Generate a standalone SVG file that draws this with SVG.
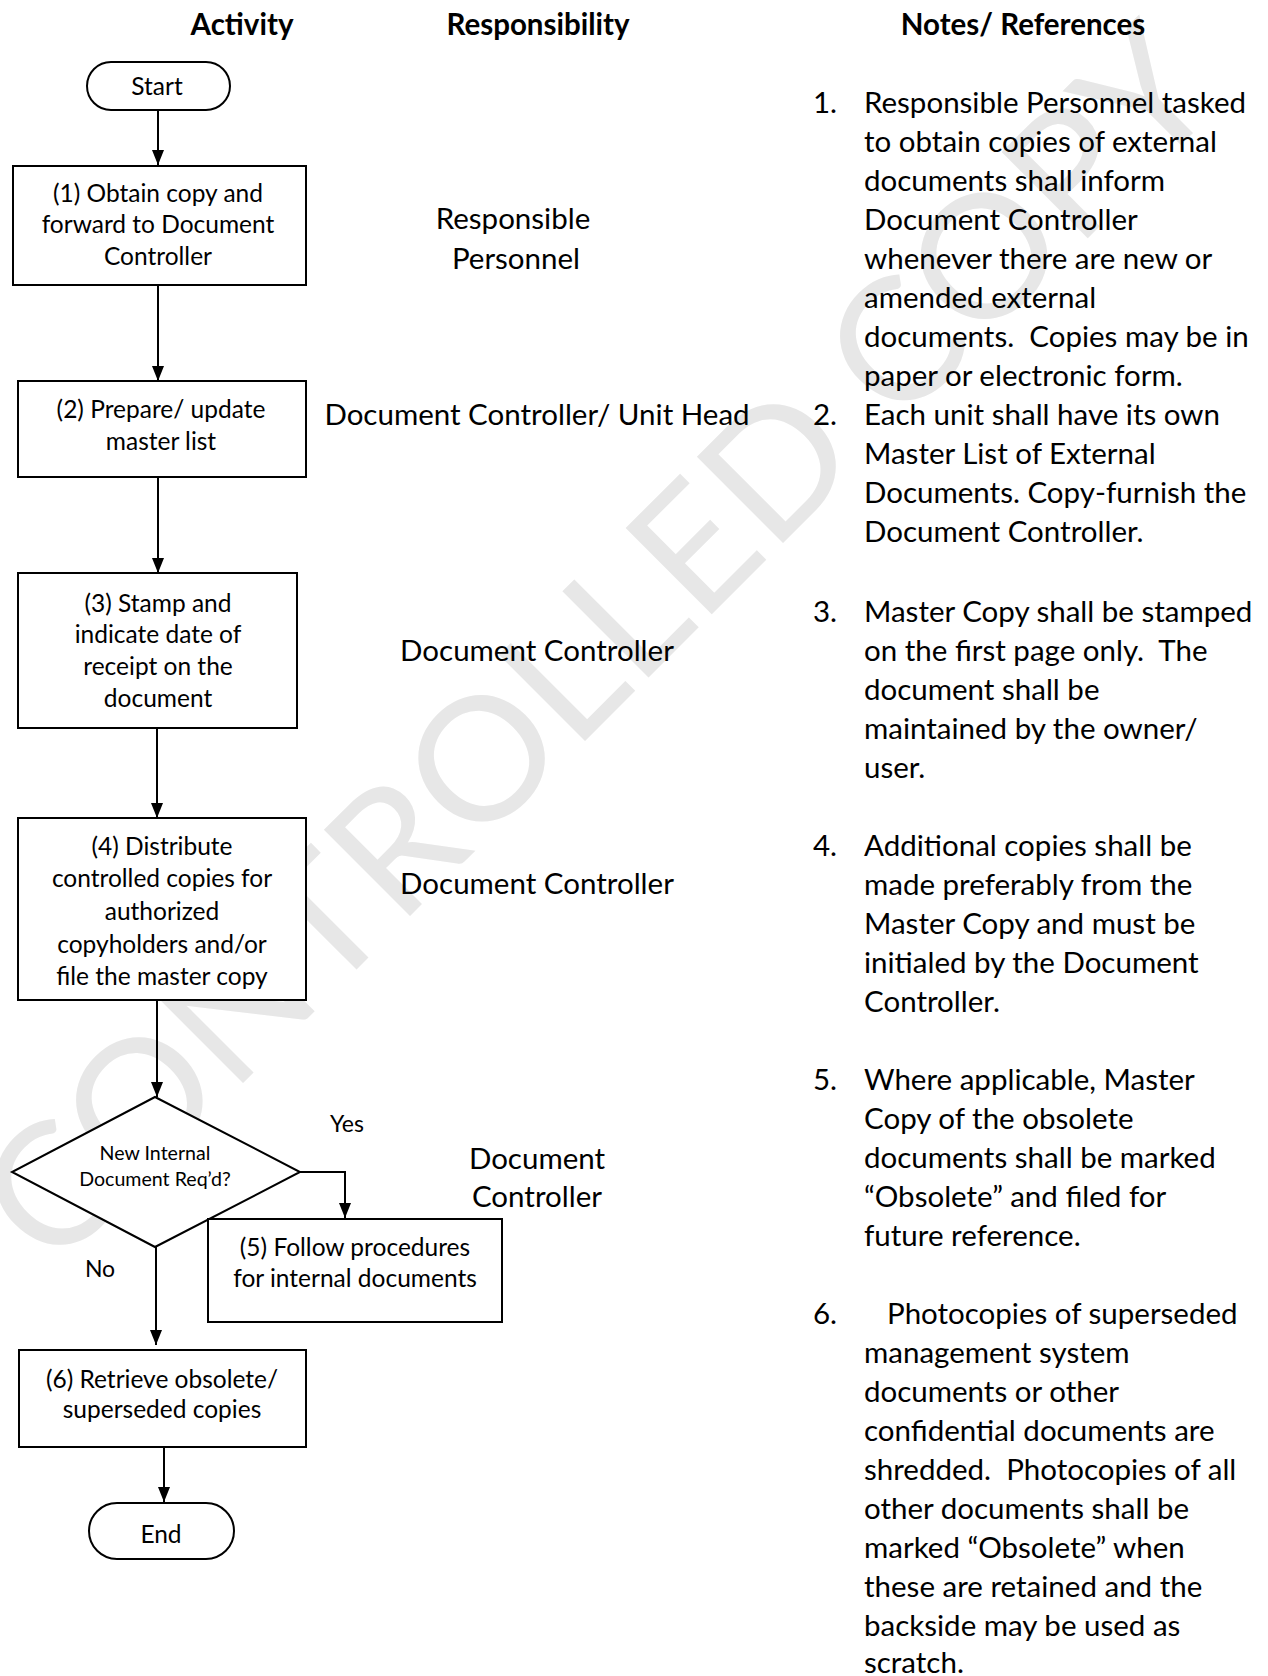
<svg xmlns="http://www.w3.org/2000/svg" width="1268" height="1676" viewBox="0 0 1268 1676">
<style>
.f{font-family:Lato,"Liberation Sans",sans-serif;fill:#000}
.box{fill:#fff;stroke:#000;stroke-width:2}
.bt{font-size:24.5px;text-anchor:middle}
.dt{font-size:19.6px;text-anchor:middle}
.hdr{font-size:29.5px;font-weight:bold;text-anchor:middle}
.resp{font-size:29.5px;text-anchor:middle}
.note{font-size:29.5px}
.yn{font-size:23px;text-anchor:middle}
.conn{stroke:#000;stroke-width:2;fill:none;marker-end:url(#arr)}
.wm{font-family:Lato,"Liberation Sans",sans-serif;font-weight:400;font-size:170px;fill:#e7e7e7;text-anchor:middle}
</style>
<defs>
<marker id="arr" viewBox="0 0 15 12" refX="15" refY="6" markerWidth="15" markerHeight="12" markerUnits="userSpaceOnUse" orient="auto">
<path d="M0,0 L15,6 L0,12 z" fill="#000"/>
</marker>
</defs>
<rect width="1268" height="1676" fill="#fff"/>
<g id="watermark">
<text class="wm" transform="translate(639,687) rotate(-45)" x="0" y="0" textLength="1659" lengthAdjust="spacingAndGlyphs">CONTROLLED COPY</text>
</g>
<g id="headers">
<text class="f hdr" x="242" y="35">Activity</text>
<text class="f hdr" x="538" y="35">Responsibility</text>
<text class="f hdr" x="1023" y="35">Notes/ References</text>
</g>
<g id="connectors">
<path class="conn" d="M158,110 V165"/>
<path class="conn" d="M158,285 V381"/>
<path class="conn" d="M158,477 V573"/>
<path class="conn" d="M157,728 V818"/>
<path class="conn" d="M157,1000 V1097"/>
<path class="conn" d="M300,1172 H345 V1218"/>
<path class="conn" d="M156,1247 V1345"/>
<path class="conn" d="M164,1447 V1502"/>
<text class="f yn" x="347" y="1132">Yes</text>
<text class="f yn" x="100" y="1277">No</text>
</g>
<g id="start">
<rect class="box" x="87" y="62" width="143" height="48" rx="24"/>
<text class="f bt" x="157" y="95">Start</text>
</g>
<g id="step1">
<rect class="box" x="13" y="166" width="293" height="119"/>
<text class="f bt" x="158" y="202">(1) Obtain copy and</text>
<text class="f bt" x="158" y="233">forward to Document</text>
<text class="f bt" x="158" y="265">Controller</text>
</g>
<g id="step2">
<rect class="box" x="18" y="381" width="288" height="96"/>
<text class="f bt" x="161" y="418">(2) Prepare/ update</text>
<text class="f bt" x="161" y="450">master list</text>
</g>
<g id="step3">
<rect class="box" x="18" y="573" width="279" height="155"/>
<text class="f bt" x="158" y="612">(3) Stamp and</text>
<text class="f bt" x="158" y="643">indicate date of</text>
<text class="f bt" x="158" y="675">receipt on the</text>
<text class="f bt" x="158" y="707">document</text>
</g>
<g id="step4">
<rect class="box" x="18" y="818" width="288" height="182"/>
<text class="f bt" x="162" y="855">(4) Distribute</text>
<text class="f bt" x="162" y="887">controlled copies for</text>
<text class="f bt" x="162" y="920">authorized</text>
<text class="f bt" x="162" y="953">copyholders and/or</text>
<text class="f bt" x="162" y="985">file the master copy</text>
</g>
<g id="decision">
<polygon class="box" points="155,1097 300,1172 155,1247 12,1172"/>
<text class="f dt" x="155" y="1160">New Internal</text>
<text class="f dt" x="155" y="1186">Document Req’d?</text>
</g>
<g id="step5">
<rect class="box" x="208" y="1219" width="294" height="103"/>
<text class="f bt" x="355" y="1256">(5) Follow procedures</text>
<text class="f bt" x="355" y="1287">for internal documents</text>
</g>
<g id="step6">
<rect class="box" x="19" y="1350" width="287" height="97"/>
<text class="f bt" x="162" y="1388">(6) Retrieve obsolete/</text>
<text class="f bt" x="162" y="1418">superseded copies</text>
</g>
<g id="end">
<rect class="box" x="89" y="1503" width="145" height="56" rx="28"/>
<text class="f bt" x="161" y="1543">End</text>
</g>
<g id="responsibility">
<text class="f resp" x="513" y="229">Responsible</text>
<text class="f resp" x="516" y="269">Personnel</text>
<text class="f resp" x="537" y="425">Document Controller/ Unit Head</text>
<text class="f resp" x="537" y="661">Document Controller</text>
<text class="f resp" x="537" y="894">Document Controller</text>
<text class="f resp" x="537" y="1169">Document</text>
<text class="f resp" x="537" y="1207">Controller</text>
</g>
<g id="notes">
<text class="f note" x="813" y="113">1.</text>
<text class="f note" x="864" y="113">Responsible Personnel tasked</text>
<text class="f note" x="864" y="152">to obtain copies of external</text>
<text class="f note" x="864" y="191">documents shall inform</text>
<text class="f note" x="864" y="230">Document Controller</text>
<text class="f note" x="864" y="269">whenever there are new or</text>
<text class="f note" x="864" y="308">amended external</text>
<text class="f note" x="864" y="347" xml:space="preserve">documents.  Copies may be in</text>
<text class="f note" x="864" y="386">paper or electronic form.</text>
<text class="f note" x="813" y="425">2.</text>
<text class="f note" x="864" y="425">Each unit shall have its own</text>
<text class="f note" x="864" y="464">Master List of External</text>
<text class="f note" x="864" y="503">Documents. Copy-furnish the</text>
<text class="f note" x="864" y="542">Document Controller.</text>
<text class="f note" x="813" y="622">3.</text>
<text class="f note" x="864" y="622">Master Copy shall be stamped</text>
<text class="f note" x="864" y="661" xml:space="preserve">on the first page only.  The</text>
<text class="f note" x="864" y="700">document shall be</text>
<text class="f note" x="864" y="739">maintained by the owner/</text>
<text class="f note" x="864" y="778">user.</text>
<text class="f note" x="813" y="856">4.</text>
<text class="f note" x="864" y="856">Additional copies shall be</text>
<text class="f note" x="864" y="895">made preferably from the</text>
<text class="f note" x="864" y="934">Master Copy and must be</text>
<text class="f note" x="864" y="973">initialed by the Document</text>
<text class="f note" x="864" y="1012">Controller.</text>
<text class="f note" x="813" y="1090">5.</text>
<text class="f note" x="864" y="1090">Where applicable, Master</text>
<text class="f note" x="864" y="1129">Copy of the obsolete</text>
<text class="f note" x="864" y="1168">documents shall be marked</text>
<text class="f note" x="864" y="1207">“Obsolete” and filed for</text>
<text class="f note" x="864" y="1246">future reference.</text>
<text class="f note" x="813" y="1324">6.</text>
<text class="f note" x="887" y="1324">Photocopies of superseded</text>
<text class="f note" x="864" y="1363">management system</text>
<text class="f note" x="864" y="1402">documents or other</text>
<text class="f note" x="864" y="1441">confidential documents are</text>
<text class="f note" x="864" y="1480" xml:space="preserve">shredded.  Photocopies of all</text>
<text class="f note" x="864" y="1519">other documents shall be</text>
<text class="f note" x="864" y="1558">marked “Obsolete” when</text>
<text class="f note" x="864" y="1597">these are retained and the</text>
<text class="f note" x="864" y="1636">backside may be used as</text>
<text class="f note" x="864" y="1673">scratch.</text>
</g>
</svg>
